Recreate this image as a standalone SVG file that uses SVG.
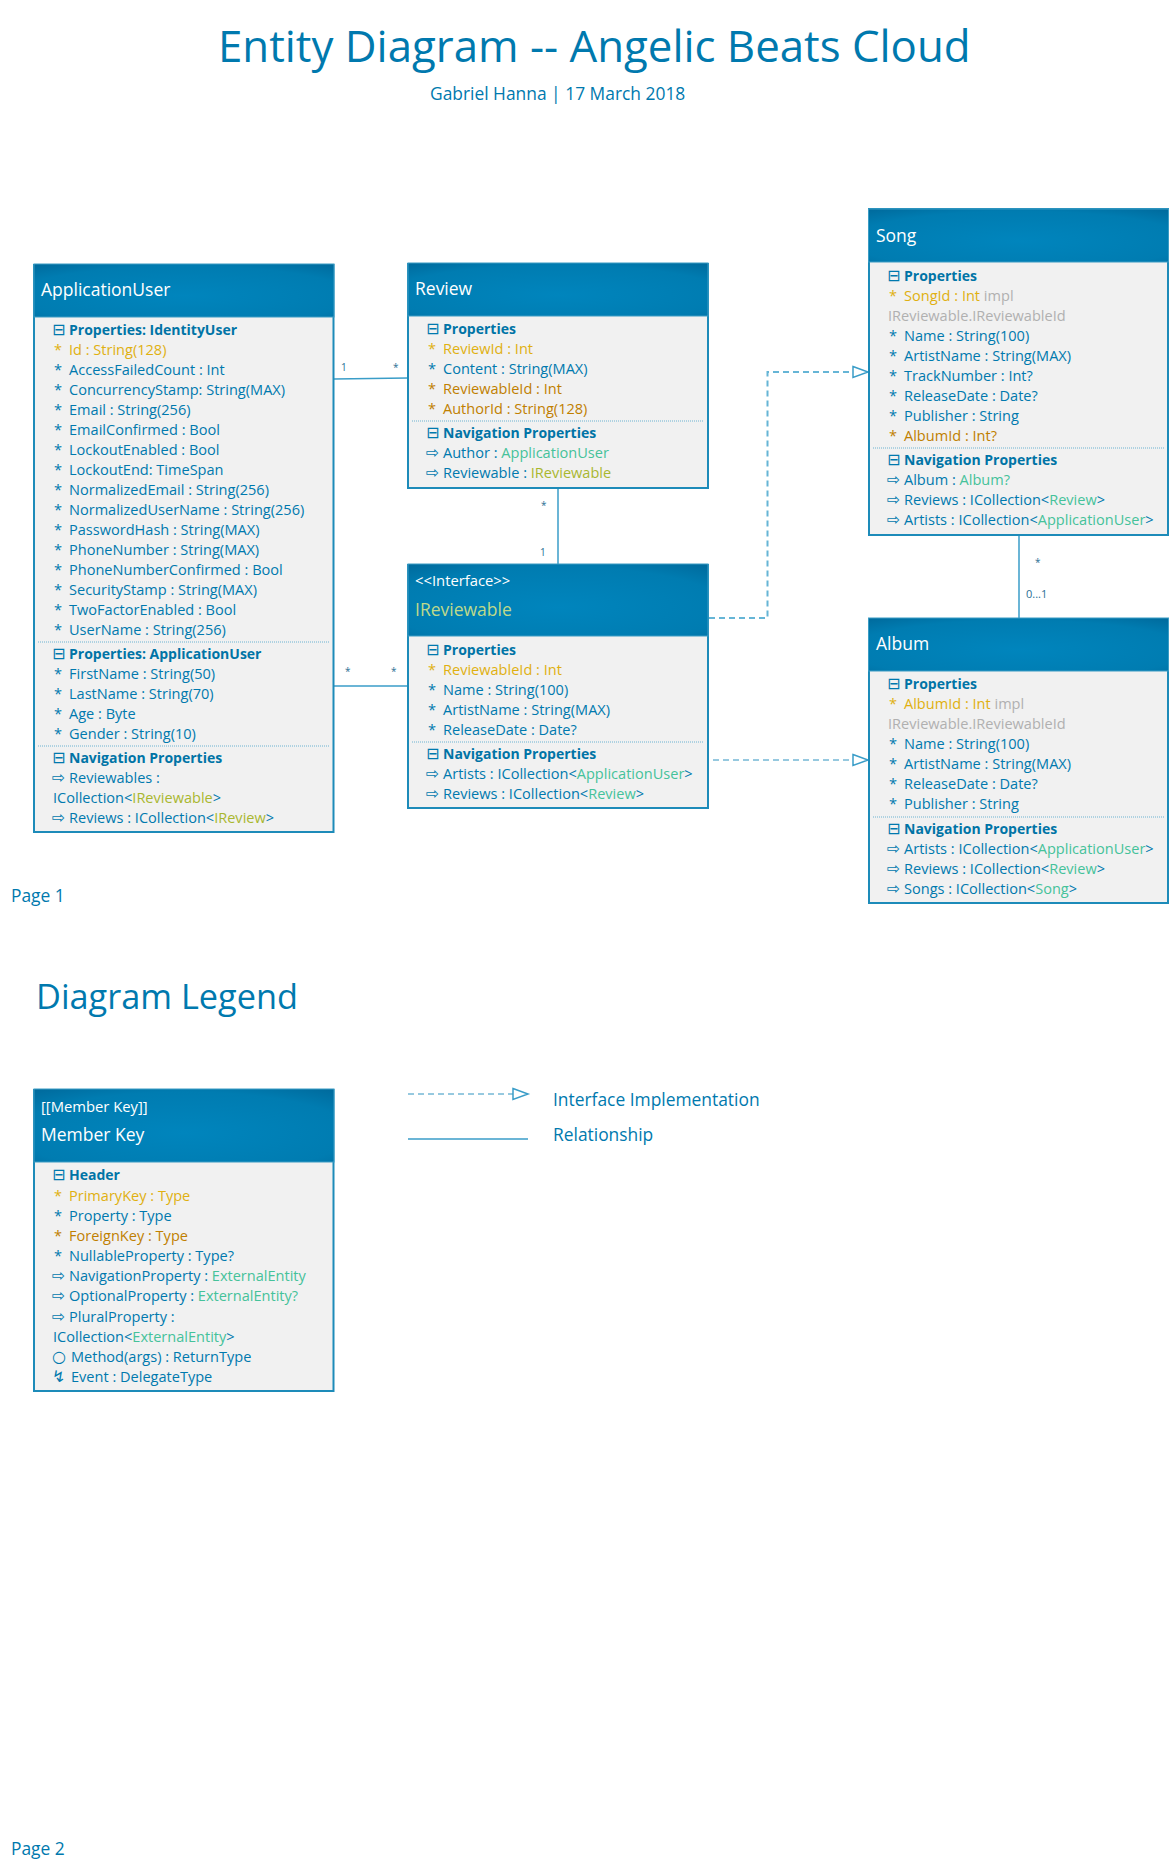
<svg xmlns="http://www.w3.org/2000/svg" width="1170" height="1871" viewBox="0 0 1170 1871">
<style>
text{font-family:"Open Sans","Noto Sans","DejaVu Sans",sans-serif;fill:#0079ae}
.m{font-size:14.55px}
.h{font-size:14px;font-weight:700;fill:#0074a6}
.i{font-size:16px;font-family:"DejaVu Sans",sans-serif}
.pk{fill:#e0b010}.fk{fill:#c07f00}.en{fill:#45c29a}.if{fill:#a9b72f}.gr{fill:#b0b0b0}
.t{font-size:17.5px;fill:#fff}.s{font-size:14.8px;fill:#fff}
.c{font-size:10px;fill:#2a6f94}
.box{fill:#f1f1f1;stroke:#1d8bb9;stroke-width:2}
.hd{fill:url(#g);stroke:#3b9cc4;stroke-width:1}
.dv{stroke:#6db3d1;stroke-width:1;stroke-dasharray:1 1}
.ln{fill:none;stroke:#3a9dc8;stroke-width:1.5}
.da{fill:none;stroke:#66b5d6;stroke-width:2;stroke-dasharray:6 4}
.dt{fill:none;stroke:#2f93c0;stroke-width:1;stroke-dasharray:6 4}
.hp{fill:none;stroke:#3a9dc8;stroke-width:1.5}
</style>
<defs>
<radialGradient id="g" cx="0.5" cy="0.6" r="0.8"><stop offset="0" stop-color="#0085bd"/><stop offset="0.7" stop-color="#007cb1"/><stop offset="1" stop-color="#00689a"/></radialGradient>
</defs>

<text x="218" y="62" style="font-size:43.8px">Entity Diagram -- Angelic Beats Cloud</text>
<text x="430" y="100" style="font-size:17.4px">Gabriel Hanna | 17 March 2018</text>
<text x="11" y="902" style="font-size:17.4px">Page 1</text>
<text x="36" y="1009" style="font-size:34.3px">Diagram Legend</text>
<text x="11" y="1855" style="font-size:17.4px">Page 2</text>

<g id="connectors">
<path class="ln" d="M334 379 408 378"/>
<path class="ln" d="M334 686H408"/>
<path class="ln" d="M558 488V564"/>
<path class="ln" d="M1019 535V618"/>
<path class="da" d="M709 618H767.500V372H853"/>
<path class="hp" d="M853 366.500 868 372 853 377.500Z"/>
<path class="dt" d="M713 760H853"/>
<path class="hp" d="M853 754.500 868 760 853 765.500Z"/>
<text class="c" x="341" y="371">1</text>
<text class="c" x="393" y="371">*</text>
<text class="c" x="345" y="675">*</text>
<text class="c" x="391" y="675">*</text>
<text class="c" x="541" y="509">*</text>
<text class="c" x="540" y="556">1</text>
<text class="c" x="1035" y="566">*</text>
<text class="c" x="1026" y="598" style="font-size:11px">0...1</text>
</g>

<g id="ApplicationUser">
<rect class="box" x="34" y="265" width="299.500" height="567"/>
<rect class="hd" x="34" y="264" width="300" height="53"/>
<text class="t" x="41" y="296">ApplicationUser</text>
<text class="i" x="52" y="335">⊟</text><text class="h" x="69" y="335">Properties: IdentityUser</text>
<text class="m pk" x="54" y="355">*</text><text class="m pk" x="69" y="355">Id : String(128)</text>
<text class="m" x="54" y="375">*</text><text class="m" x="69" y="375">AccessFailedCount : Int</text>
<text class="m" x="54" y="395">*</text><text class="m" x="69" y="395">ConcurrencyStamp: String(MAX)</text>
<text class="m" x="54" y="415">*</text><text class="m" x="69" y="415">Email : String(256)</text>
<text class="m" x="54" y="435">*</text><text class="m" x="69" y="435">EmailConfirmed : Bool</text>
<text class="m" x="54" y="455">*</text><text class="m" x="69" y="455">LockoutEnabled : Bool</text>
<text class="m" x="54" y="475">*</text><text class="m" x="69" y="475">LockoutEnd: TimeSpan</text>
<text class="m" x="54" y="495">*</text><text class="m" x="69" y="495">NormalizedEmail : String(256)</text>
<text class="m" x="54" y="515">*</text><text class="m" x="69" y="515">NormalizedUserName : String(256)</text>
<text class="m" x="54" y="535">*</text><text class="m" x="69" y="535">PasswordHash : String(MAX)</text>
<text class="m" x="54" y="555">*</text><text class="m" x="69" y="555">PhoneNumber : String(MAX)</text>
<text class="m" x="54" y="575">*</text><text class="m" x="69" y="575">PhoneNumberConfirmed : Bool</text>
<text class="m" x="54" y="595">*</text><text class="m" x="69" y="595">SecurityStamp : String(MAX)</text>
<text class="m" x="54" y="615">*</text><text class="m" x="69" y="615">TwoFactorEnabled : Bool</text>
<text class="m" x="54" y="635">*</text><text class="m" x="69" y="635">UserName : String(256)</text>
<path class="dv" d="M38 642H329"/>
<text class="i" x="52" y="659">⊟</text><text class="h" x="69" y="659">Properties: ApplicationUser</text>
<text class="m" x="54" y="679">*</text><text class="m" x="69" y="679">FirstName : String(50)</text>
<text class="m" x="54" y="699">*</text><text class="m" x="69" y="699">LastName : String(70)</text>
<text class="m" x="54" y="719">*</text><text class="m" x="69" y="719">Age : Byte</text>
<text class="m" x="54" y="739">*</text><text class="m" x="69" y="739">Gender : String(10)</text>
<path class="dv" d="M38 746H329"/>
<text class="i" x="52" y="763">⊟</text><text class="h" x="69" y="763">Navigation Properties</text>
<text class="i" x="52" y="783">⇨</text><text class="m" x="69" y="783">Reviewables :</text>
<text class="m" x="53" y="803">ICollection&lt;<tspan class="if">IReviewable</tspan>&gt;</text>
<text class="i" x="52" y="823">⇨</text><text class="m" x="69" y="823">Reviews : ICollection&lt;<tspan class="if">IReview</tspan>&gt;</text>
</g>

<g id="Review">
<rect class="box" x="408" y="264" width="300" height="224"/>
<rect class="hd" x="408" y="263" width="300" height="53"/>
<text class="t" x="415" y="295">Review</text>
<text class="i" x="426" y="334">⊟</text><text class="h" x="443" y="334">Properties</text>
<text class="m pk" x="428" y="354">*</text><text class="m pk" x="443" y="354">ReviewId : Int</text>
<text class="m" x="428" y="374">*</text><text class="m" x="443" y="374">Content : String(MAX)</text>
<text class="m fk" x="428" y="394">*</text><text class="m fk" x="443" y="394">ReviewableId : Int</text>
<text class="m fk" x="428" y="414">*</text><text class="m fk" x="443" y="414">AuthorId : String(128)</text>
<path class="dv" d="M412 421H703"/>
<text class="i" x="426" y="438">⊟</text><text class="h" x="443" y="438">Navigation Properties</text>
<text class="i" x="426" y="458">⇨</text><text class="m" x="443" y="458">Author : <tspan class="en">ApplicationUser</tspan></text>
<text class="i" x="426" y="478">⇨</text><text class="m" x="443" y="478">Reviewable : <tspan class="if">IReviewable</tspan></text>
</g>

<g id="IReviewable">
<rect class="box" x="408" y="565" width="300" height="243"/>
<rect class="hd" x="408" y="564" width="300" height="72"/>
<text class="s" x="415" y="586">&lt;&lt;Interface&gt;&gt;</text>
<text class="t" x="415" y="616" style="fill:#bfd98a">IReviewable</text>
<text class="i" x="426" y="655">⊟</text><text class="h" x="443" y="655">Properties</text>
<text class="m pk" x="428" y="675">*</text><text class="m pk" x="443" y="675">ReviewableId : Int</text>
<text class="m" x="428" y="695">*</text><text class="m" x="443" y="695">Name : String(100)</text>
<text class="m" x="428" y="715">*</text><text class="m" x="443" y="715">ArtistName : String(MAX)</text>
<text class="m" x="428" y="735">*</text><text class="m" x="443" y="735">ReleaseDate : Date?</text>
<path class="dv" d="M412 742H703"/>
<text class="i" x="426" y="759">⊟</text><text class="h" x="443" y="759">Navigation Properties</text>
<text class="i" x="426" y="779">⇨</text><text class="m" x="443" y="779">Artists : ICollection&lt;<tspan class="en">ApplicationUser</tspan>&gt;</text>
<text class="i" x="426" y="799">⇨</text><text class="m" x="443" y="799">Reviews : ICollection&lt;<tspan class="en">Review</tspan>&gt;</text>
</g>

<g id="Song">
<rect class="box" x="869" y="209" width="299" height="326"/>
<rect class="hd" x="868.500" y="209" width="300" height="53"/>
<text class="t" x="876" y="242">Song</text>
<text class="i" x="887" y="281">⊟</text><text class="h" x="904" y="281">Properties</text>
<text class="m pk" x="889" y="301">*</text><text class="m pk" x="904" y="301">SongId : Int <tspan class="gr">impl</tspan></text>
<text class="m gr" x="888" y="321">IReviewable.IReviewableId</text>
<text class="m" x="889" y="341">*</text><text class="m" x="904" y="341">Name : String(100)</text>
<text class="m" x="889" y="361">*</text><text class="m" x="904" y="361">ArtistName : String(MAX)</text>
<text class="m" x="889" y="381">*</text><text class="m" x="904" y="381">TrackNumber : Int?</text>
<text class="m" x="889" y="401">*</text><text class="m" x="904" y="401">ReleaseDate : Date?</text>
<text class="m" x="889" y="421">*</text><text class="m" x="904" y="421">Publisher : String</text>
<text class="m fk" x="889" y="441">*</text><text class="m fk" x="904" y="441">AlbumId : Int?</text>
<path class="dv" d="M873 448H1164"/>
<text class="i" x="887" y="465">⊟</text><text class="h" x="904" y="465">Navigation Properties</text>
<text class="i" x="887" y="485">⇨</text><text class="m" x="904" y="485">Album : <tspan class="en">Album?</tspan></text>
<text class="i" x="887" y="505">⇨</text><text class="m" x="904" y="505">Reviews : ICollection&lt;<tspan class="en">Review</tspan>&gt;</text>
<text class="i" x="887" y="525">⇨</text><text class="m" x="904" y="525">Artists : ICollection&lt;<tspan class="en">ApplicationUser</tspan>&gt;</text>
</g>

<g id="Album">
<rect class="box" x="869" y="619" width="299" height="284"/>
<rect class="hd" x="868.500" y="618" width="300" height="53"/>
<text class="t" x="876" y="650">Album</text>
<text class="i" x="887" y="689">⊟</text><text class="h" x="904" y="689">Properties</text>
<text class="m pk" x="889" y="709">*</text><text class="m pk" x="904" y="709">AlbumId : Int <tspan class="gr">impl</tspan></text>
<text class="m gr" x="888" y="729">IReviewable.IReviewableId</text>
<text class="m" x="889" y="749">*</text><text class="m" x="904" y="749">Name : String(100)</text>
<text class="m" x="889" y="769">*</text><text class="m" x="904" y="769">ArtistName : String(MAX)</text>
<text class="m" x="889" y="789">*</text><text class="m" x="904" y="789">ReleaseDate : Date?</text>
<text class="m" x="889" y="809">*</text><text class="m" x="904" y="809">Publisher : String</text>
<path class="dv" d="M873 817H1164"/>
<text class="i" x="887" y="834">⊟</text><text class="h" x="904" y="834">Navigation Properties</text>
<text class="i" x="887" y="854">⇨</text><text class="m" x="904" y="854">Artists : ICollection&lt;<tspan class="en">ApplicationUser</tspan>&gt;</text>
<text class="i" x="887" y="874">⇨</text><text class="m" x="904" y="874">Reviews : ICollection&lt;<tspan class="en">Review</tspan>&gt;</text>
<text class="i" x="887" y="894">⇨</text><text class="m" x="904" y="894">Songs : ICollection&lt;<tspan class="en">Song</tspan>&gt;</text>
</g>

<g id="MemberKey">
<rect class="box" x="34" y="1090" width="299.500" height="301"/>
<rect class="hd" x="34" y="1089" width="300" height="73"/>
<text class="s" x="41" y="1112">[[Member Key]]</text>
<text class="t" x="41" y="1141">Member Key</text>
<text class="i" x="52" y="1180">⊟</text><text class="h" x="69" y="1180">Header</text>
<text class="m pk" x="54" y="1201">*</text><text class="m pk" x="69" y="1201">PrimaryKey : Type</text>
<text class="m" x="54" y="1221">*</text><text class="m" x="69" y="1221">Property : Type</text>
<text class="m fk" x="54" y="1241">*</text><text class="m fk" x="69" y="1241">ForeignKey : Type</text>
<text class="m" x="54" y="1261">*</text><text class="m" x="69" y="1261">NullableProperty : Type?</text>
<text class="i" x="52" y="1281">⇨</text><text class="m" x="69" y="1281">NavigationProperty : <tspan class="en">ExternalEntity</tspan></text>
<text class="i" x="52" y="1301">⇨</text><text class="m" x="69" y="1301">OptionalProperty : <tspan class="en">ExternalEntity?</tspan></text>
<text class="i" x="52" y="1322">⇨</text><text class="m" x="69" y="1322">PluralProperty :</text>
<text class="m" x="53" y="1342">ICollection&lt;<tspan class="en">ExternalEntity</tspan>&gt;</text>
<text class="i" x="52" y="1362">○</text><text class="m" x="71" y="1362">Method(args) : ReturnType</text>
<text class="i" x="52" y="1382">↯</text><text class="m" x="71" y="1382">Event : DelegateType</text>
</g>

<g id="legend">
<path class="dt" d="M408 1094H513"/>
<path class="hp" d="M513 1088.500 528 1094 513 1099.500Z"/>
<path class="ln" d="M408 1139H528"/>
<text x="553" y="1106" style="font-size:17.4px">Interface Implementation</text>
<text x="553" y="1141" style="font-size:17.4px">Relationship</text>
</g>
</svg>
